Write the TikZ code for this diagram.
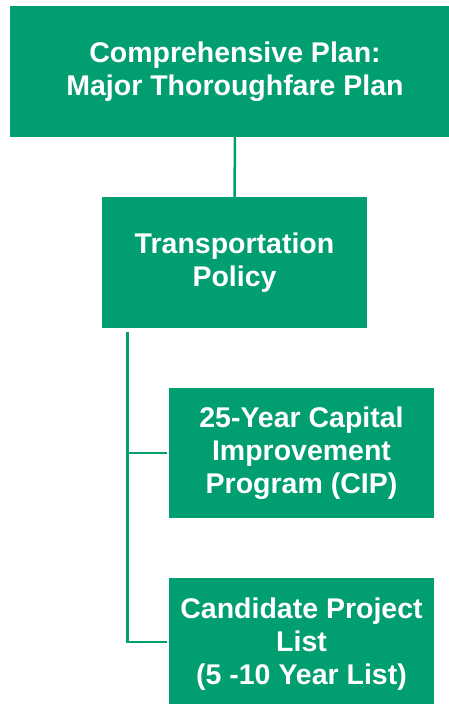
\documentclass[tikz,border=0pt]{standalone}
\usepackage{fontspec}
\setmainfont{Liberation Sans}
\definecolor{planGreen}{RGB}{0,158,112}
\begin{document}
\begin{tikzpicture}[x=1pt,y=-1pt,
  box/.style={fill=planGreen, draw=none, text=white, align=center,
    font=\bfseries\fontsize{28.5}{33}\selectfont, inner sep=0pt},
  link/.style={draw=planGreen, line width=2.5pt}]
  \useasboundingbox (0,0) rectangle (449,704);
  \clip (0,0) rectangle (449,704);
  % boxes
  \node[box, minimum width=450pt, minimum height=131pt] (plan) at (235,71.5)
    {Comprehensive Plan:\\Major Thoroughfare Plan};
  \node[box, minimum width=265pt, minimum height=131pt] (policy) at (234.5,262.5)
    {Transportation\\Policy};
  \node[box, minimum width=265pt, minimum height=130pt] (cip) at (301.5,453)
    {25-Year Capital\\Improvement\\Program (CIP)};
  \node[box, minimum width=265pt, minimum height=132pt] (list) at (301.5,644)
    {Candidate Project\\List\\(5 -10 Year List)};
  % connectors
  \coordinate (trunkTop) at (127.5,332);
  \coordinate (trunkBot) at (127.5,642);
  \draw[link] ([yshift=3pt]plan.south) -- ([yshift=-3pt]policy.north);
  \draw[link] (trunkTop) -- (trunkBot) -- ([xshift=-2pt]list.west |- trunkBot);
  \draw[link] (trunkTop |- cip.west) -- ([xshift=-2pt]cip.west);
\end{tikzpicture}
\end{document}
